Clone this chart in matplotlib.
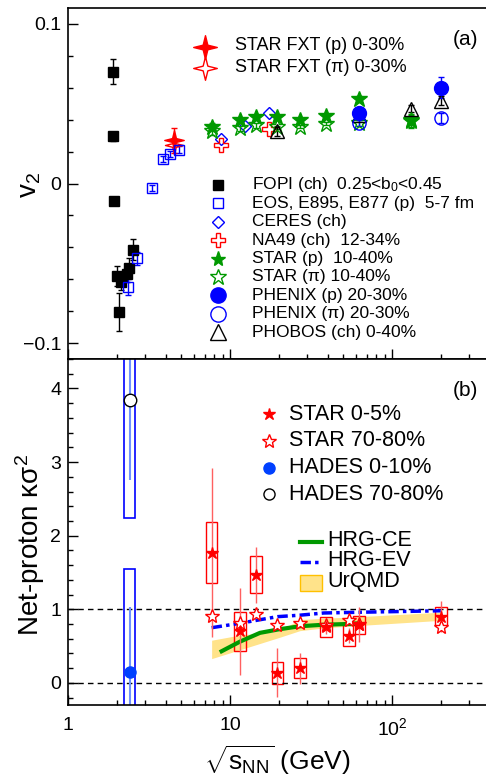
import matplotlib
matplotlib.use("Agg")
import matplotlib.pyplot as plt
import numpy as np
from matplotlib.lines import Line2D
from matplotlib.patches import Rectangle
from matplotlib.path import Path
from matplotlib.ticker import MultipleLocator, FixedLocator, NullFormatter, LogLocator

plt.rcParams["font.family"] = ["Liberation Sans", "DejaVu Sans"]
plt.rcParams["mathtext.fontset"] = "custom"
plt.rcParams["mathtext.rm"] = "Liberation Sans"
plt.rcParams["mathtext.it"] = "Liberation Sans:italic"

# ---------------- panel (a): v2 vs sqrt(s_NN)
fopi_x = [1.90, 1.90, 1.92, 2.00, 2.06, 2.13, 2.31, 2.38, 2.52]
fopi_v2 = [0.070, 0.0295, -0.0107, -0.058, -0.0807, -0.062, -0.0565, -0.0527, -0.0414]
fopi_err = [0.0078, 0.0026, 0.0020, 0.0065, 0.0120, 0.0050, 0.0050, 0.0060, 0.0065]

eos_x = [2.35, 2.67, 3.30, 3.86, 4.26, 4.84]
eos_v2 = [-0.065, -0.047, -0.0027, 0.0155, 0.0186, 0.0212]
eos_err = [0.005, 0.004, 0.002, 0.002, 0.002, 0.002]

fxt_x = [4.5]
fxt_p_v2 = [0.027]
fxt_p_err = [0.008]
fxt_pi_v2 = [0.024]

ceres_x = [8.8, 12.3, 17.3]
ceres_v2 = [0.028, 0.036, 0.044]

na49_x = [8.8, 17.3]
na49_v2 = [0.024, 0.034]

star_bes_x = [7.7, 11.5, 14.5, 19.6, 27, 39, 62.4, 130]
star_p_v2 = [0.0357, 0.0395, 0.0414, 0.0414, 0.0395, 0.0426, 0.053, 0.039]
star_p_err = [0.002, 0.0015, 0.0015, 0.001, 0.001, 0.001, 0.002, 0.004]
star_pi_v2 = [0.0326, 0.0345, 0.0364, 0.0351, 0.0357, 0.0376, 0.038, 0.0395]

phenix_x = [62.4, 200]
phenix_p_v2 = [0.0445, 0.060]
phenix_p_err = [0.003, 0.0065]
phenix_pi_v2 = [0.038, 0.041]
phenix_pi_err = [0.002, 0.003]

phobos_x = [19.6, 62.4, 130, 200]
phobos_v2 = [0.0326, 0.043, 0.047, 0.052]
phobos_err = [0.003, 0.002, 0.002, 0.003]

# ---------------- panel (b): net-proton kappa*sigma^2
star_x = [7.7, 11.5, 14.5, 19.6, 27, 39, 54.4, 62.4, 200]
star_c05 = [1.77, 0.70, 1.47, 0.14, 0.20, 0.76, 0.64, 0.79, 0.90]
star_c05_stat = [1.15, 0.59, 0.38, 0.33, 0.21, 0.10, 0.10, 0.24, 0.21]
star_c05_sys = [0.41, 0.27, 0.25, 0.15, 0.14, 0.14, 0.14, 0.12, 0.13]
star_c7080 = [0.91, 0.82, 0.93, 0.78, 0.82, 0.79, 0.85, 0.80, 0.76]

hades_x = [2.4]
hades_c010 = [0.15]
hades_c010_stat = [0.88]
hades_c010_sys = [1.40]
hades_c7080 = [3.84]
hades_c7080_stat = [1.09]
hades_c7080_sys = [1.60]

hrg_ce_x = [8.87, 11.5, 15.3, 20.3, 27, 37.6, 52.5, 63.4]
hrg_ce_y = [0.43, 0.56, 0.68, 0.73, 0.77, 0.79, 0.80, 0.81]

hrg_ev_x = [7.7, 11.5, 19.6, 27, 38, 63, 200]
hrg_ev_y = [0.75, 0.81, 0.90, 0.92, 0.95, 0.96, 0.98]

urqmd_x = [7.7, 11.5, 19.6, 27, 39, 62.4, 200]
urqmd_hi = [0.58, 0.65, 0.70, 0.86, 0.88, 0.90, 0.96]
urqmd_lo = [0.33, 0.45, 0.61, 0.71, 0.75, 0.78, 0.85]

W, H = 486, 778
fig = plt.figure(figsize=(W / 100, H / 100), dpi=100)


def fx(px):
    return px / W


def fy(py):
    return 1 - py / H


RED = "#ff0000"
GREEN = "#009900"
BLUE = "#0000ff"

# slender 4-point star used for STAR FXT
ang = np.arange(8) * np.pi / 4 + np.pi / 2
rad = np.where(np.arange(8) % 2 == 0, 1.0, 0.28)
verts = np.column_stack([rad * np.cos(ang), rad * np.sin(ang)])
star4 = Path(np.vstack([verts, verts[:1]]),
             [Path.MOVETO] + [Path.LINETO] * 7 + [Path.CLOSEPOLY])

ax_a = fig.add_axes([fx(68), fy(359), 1 - fx(68), fy(8) - fy(359)])
ax_b = fig.add_axes([fx(68), fy(705), 1 - fx(68), fy(359) - fy(705)])

for ax in (ax_a, ax_b):
    ax.set_xscale("log")
    ax.set_xlim(1, 380)
    ax.spines["right"].set_visible(False)
    ax.xaxis.set_major_locator(FixedLocator([1, 10, 100]))
    ax.xaxis.set_minor_locator(LogLocator(base=10, subs=range(2, 10)))
    ax.xaxis.set_minor_formatter(NullFormatter())
    ax.tick_params(which="both", direction="in", top=False, right=False,
                   labelsize=14, width=1)
    ax.tick_params(which="major", length=7)
    ax.tick_params(which="minor", length=3.5)
    for s in ax.spines.values():
        s.set_linewidth(1.2)

# ---- panel (a)
ax_a.set_ylim(-0.11, 0.11)
ax_a.yaxis.set_major_locator(FixedLocator([-0.1, 0, 0.1]))
ax_a.set_yticklabels(["\u22120.1", "0", "0.1"])
ax_a.yaxis.set_minor_locator(MultipleLocator(0.02))
ax_a.xaxis.set_major_formatter(NullFormatter())
ax_a.tick_params(axis="y", pad=5)

eb = dict(capsize=2.5, elinewidth=1, capthick=1, linestyle="none")
ax_a.errorbar(fopi_x, fopi_v2, yerr=fopi_err, fmt="s", color="k", ms=7, **eb)
ax_a.errorbar(eos_x, eos_v2, yerr=eos_err, fmt="s", color=BLUE, mfc="none",
              ms=7.5, mew=1, **eb)
ax_a.plot(ceres_x, ceres_v2, "D", color=BLUE, mfc="none", ms=6.5, mew=1,
          linestyle="none")
ax_a.plot(na49_x, na49_v2, "P", color=RED, mfc="none", ms=10, mew=1,
          linestyle="none")
ax_a.errorbar(star_bes_x, star_pi_v2, yerr=star_p_err, fmt="*", color=GREEN,
              mfc="none", ms=12, mew=1, **eb)
ax_a.errorbar(star_bes_x, star_p_v2, yerr=star_p_err, fmt="*", color=GREEN,
              ms=12, **eb)
ax_a.errorbar(phobos_x, phobos_v2, yerr=phobos_err, fmt="^", color="k",
              mfc="none", ms=10, mew=1, **eb)
ax_a.errorbar(phenix_x, phenix_pi_v2, yerr=phenix_pi_err, fmt="o", color=BLUE,
              mfc="none", ms=9.5, mew=1, **eb)
ax_a.errorbar(phenix_x, phenix_p_v2, yerr=phenix_p_err, fmt="o", color=BLUE,
              ms=10, **eb)
ax_a.plot(fxt_x, fxt_pi_v2, marker=star4, color=RED, mfc="none", ms=13,
          mew=1, linestyle="none")
ax_a.errorbar(fxt_x, fxt_p_v2, yerr=fxt_p_err, fmt="none", ecolor=RED, **eb)
ax_a.plot(fxt_x, fxt_p_v2, marker=star4, color=RED, ms=14, linestyle="none")


def key(px, py, **kw):
    fig.add_artist(Line2D([fx(px)], [fy(py)], transform=fig.transFigure,
                          linestyle="none", **kw))


def ktext(px, py, s, size):
    fig.text(fx(px), fy(py), s, fontsize=size, va="center", ha="left")


key(205, 47, marker=star4, color=RED, ms=17)
key(205, 68, marker=star4, color=RED, mfc="none", ms=17, mew=1)
ktext(235, 46, "STAR FXT (p) 0-30%", 13)
ktext(235, 67, "STAR FXT (\u03c0) 0-30%", 13)

rows_a = [
    (dict(marker="s", color="k", ms=7), "FOPI (ch)  0.25<b$_{\\rm 0}$<0.45"),
    (dict(marker="s", color=BLUE, mfc="none", ms=7, mew=1), "EOS, E895, E877 (p)  5-7 fm"),
    (dict(marker="D", color=BLUE, mfc="none", ms=6, mew=1), "CERES (ch)"),
    (dict(marker="P", color=RED, mfc="none", ms=10, mew=1), "NA49 (ch)  12-34%"),
    (dict(marker="*", color=GREEN, ms=11), "STAR (p)  10-40%"),
    (dict(marker="*", color=GREEN, mfc="none", ms=12, mew=1), "STAR (\u03c0) 10-40%"),
    (dict(marker="o", color=BLUE, ms=11), "PHENIX (p) 20-30%"),
    (dict(marker="o", color=BLUE, mfc="none", ms=11, mew=1), "PHENIX (\u03c0) 20-30%"),
    (dict(marker="^", color="k", mfc="none", ms=11, mew=1), "PHOBOS (ch) 0-40%"),
]
for i, (mk, label) in enumerate(rows_a):
    y = 185 + 18.4 * i
    key(218, y, **mk)
    ktext(252, y, label, 12.5)

ax_a.text(0.95, 0.91, "(a)", transform=ax_a.transAxes, fontsize=15,
          ha="center", va="center")

# ---- panel (b)
ax_b.set_ylim(-0.3, 4.4)
ax_b.yaxis.set_major_locator(FixedLocator([0, 1, 2, 3, 4]))
ax_b.yaxis.set_minor_locator(MultipleLocator(0.2))
ax_b.set_xticklabels(["1", "10", "10$^{2}$"])
ax_b.tick_params(axis="x", pad=9)
ax_b.tick_params(axis="y", pad=5)

ax_b.axhline(1, color="k", lw=1, ls=(0, (4, 3)))
ax_b.axhline(0, color="k", lw=1, ls=(0, (4, 3)))

ax_b.fill_between(urqmd_x, urqmd_lo, urqmd_hi, color="#ffe38a", lw=0)
ax_b.plot(hrg_ce_x, hrg_ce_y, color=GREEN, lw=3)
ax_b.plot(hrg_ev_x, hrg_ev_y, color=BLUE, lw=2.5, ls=(0, (3, 1.2, 1, 1.2)))

lw_box = 0.0355
for x, y, s in zip(star_x, star_c05, star_c05_sys):
    ax_b.add_patch(Rectangle((x * 10 ** -lw_box, y - s),
                             x * (10 ** lw_box - 10 ** -lw_box), 2 * s,
                             fill=False, ec=RED, lw=1))
ax_b.errorbar(star_x, star_c05, yerr=star_c05_stat, fmt="none",
              ecolor="#ff6060", elinewidth=1, capsize=0)
ax_b.plot(star_x, star_c7080, "*", color=RED, mfc="white", ms=10, mew=1,
          linestyle="none")
ax_b.plot(star_x, star_c05, "*", color=RED, ms=9, linestyle="none")

for x, y, s in zip(hades_x + hades_x, hades_c010 + hades_c7080,
                   hades_c010_sys + hades_c7080_sys):
    ax_b.add_patch(Rectangle((x * 10 ** -lw_box, y - s),
                             x * (10 ** lw_box - 10 ** -lw_box), 2 * s,
                             fill=False, ec=BLUE, lw=1.2))
ax_b.errorbar(hades_x, hades_c010, yerr=hades_c010_stat, fmt="none",
              ecolor="#7090ff", elinewidth=1.5, capsize=0)
ax_b.errorbar(hades_x, hades_c7080, yerr=hades_c7080_stat, fmt="none",
              ecolor="#7090ff", elinewidth=1.5, capsize=0)
ax_b.plot(hades_x, hades_c010, "o", color="#0040ff", ms=8, linestyle="none")
ax_b.plot(hades_x, hades_c7080, "o", color="k", mfc="white", ms=9, mew=1,
          linestyle="none")

ax_b.text(0.95, 0.91, "(b)", transform=ax_b.transAxes, fontsize=15,
          ha="center", va="center")

rows_b = [
    (dict(marker="*", color=RED, ms=9), "STAR 0-5%"),
    (dict(marker="*", color=RED, mfc="white", ms=10, mew=1), "STAR 70-80%"),
    (dict(marker="o", color="#0040ff", ms=8), "HADES 0-10%"),
    (dict(marker="o", color="k", mfc="white", ms=8, mew=1), "HADES 70-80%"),
]
for i, (mk, label) in enumerate(rows_b):
    y = 414 + 26.8 * i
    key(269, y, **mk)
    ktext(289, y, label, 15.5)

fig.add_artist(Line2D([fx(300), fx(322)], [fy(542), fy(542)],
                      transform=fig.transFigure, color=GREEN, lw=3))
fig.add_artist(Line2D([fx(300), fx(322)], [fy(562), fy(562)],
                      transform=fig.transFigure, color=BLUE, lw=2.5,
                      ls=(0, (3, 1.2, 1, 1.2))))
fig.add_artist(Rectangle((fx(300), fy(591)), fx(22), fy(575) - fy(591),
                         transform=fig.transFigure, fc="#ffe38a",
                         ec="#ffc000", lw=1))
ktext(327, 541, "HRG-CE", 15.5)
ktext(327, 561, "HRG-EV", 15.5)
ktext(327, 582, "UrQMD", 15.5)

# ---- axis titles
fig.text(fx(30), fy(185), r"v$_{\rm 2}$", rotation=90, fontsize=20,
         ha="center", va="center")
fig.text(fx(30), fy(545), "Net-proton \u03ba\u03c3$^{\\rm 2}$", rotation=90,
         fontsize=20, ha="center", va="center")
fig.text(fx(277), fy(760), r"$\sqrt{\mathrm{s}_{\rm NN}}$ (GeV)", fontsize=19,
         ha="center", va="center")

fig.savefig("out.png", dpi=100, facecolor="white")
